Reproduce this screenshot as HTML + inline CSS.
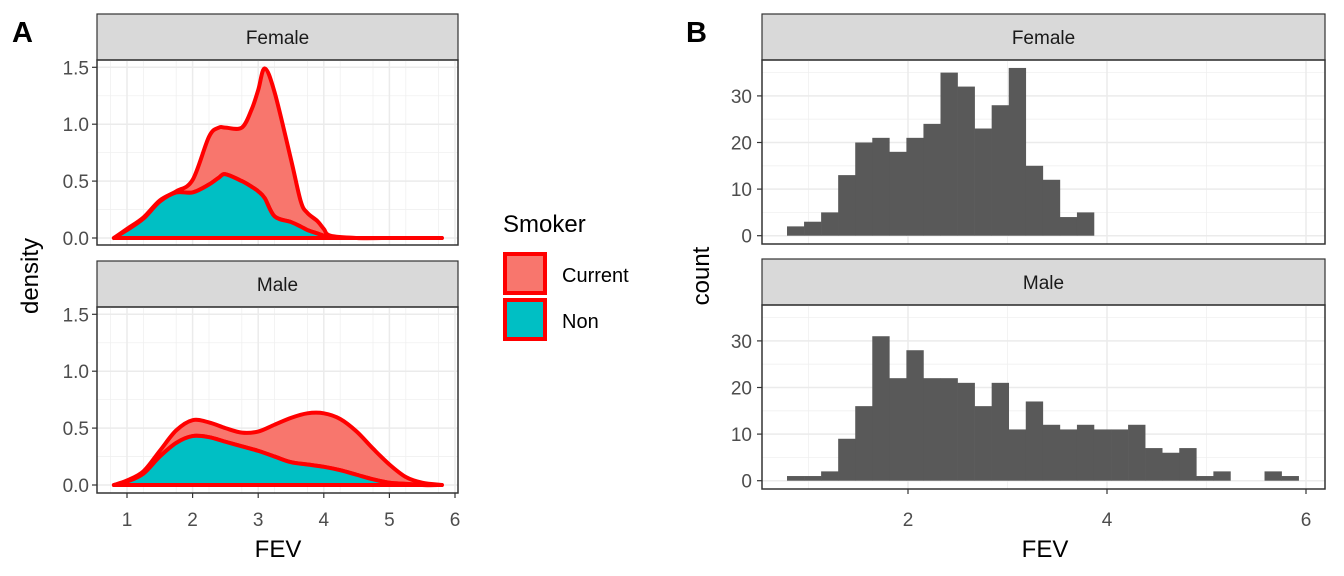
<!DOCTYPE html>
<html><head><meta charset="utf-8"><style>
body{margin:0;background:#fff}
svg{display:block;font-family:"Liberation Sans",Arial,sans-serif}
</style></head><body>
<svg id="c" width="1344" height="576" viewBox="0 0 1344 576"></svg>
<script>
// Panel A density data
const femX=[0.8,1.0,1.25,1.5,1.75,2.0,2.25,2.4,2.5,2.75,2.9,3.0,3.1,3.25,3.5,3.65,3.75,3.9,4.0,4.1,4.5,5.0,5.8];
const femNon=[0,0.07,0.17,0.32,0.4,0.4,0.47,0.53,0.56,0.5,0.45,0.41,0.35,0.19,0.14,0.1,0.07,0.04,0.02,0.01,0,0,0];
const femTotal=[0,0.08,0.18,0.33,0.41,0.51,0.89,0.97,0.97,0.97,1.13,1.3,1.49,1.28,0.69,0.32,0.22,0.15,0.08,0.02,0,0,0];
const malX=[0.8,1.0,1.25,1.5,1.75,2.0,2.25,2.5,2.75,3.0,3.25,3.5,3.75,4.0,4.25,4.5,4.75,5.0,5.25,5.5,5.8];
const malNon=[0,0.03,0.1,0.25,0.37,0.43,0.42,0.38,0.34,0.3,0.25,0.2,0.18,0.16,0.13,0.09,0.05,0.02,0.01,0,0];
const malTotal=[0,0.04,0.12,0.3,0.48,0.57,0.55,0.5,0.46,0.47,0.53,0.59,0.63,0.63,0.58,0.47,0.32,0.18,0.07,0.02,0];
const aXTicks=[1,2,3,4,5,6];
const aYTicks=[0,0.5,1.0,1.5];
const aYLabels=["0.0","0.5","1.0","1.5"];
// Panel B histogram data
const binStart=0.784, binWidth=0.1714;
const femCounts=[2,3,5,13,20,21,18,21,24,35,32,23,28,36,15,12,4,5];
const malCounts=[1,1,2,9,16,31,22,28,22,22,21,16,21,11,17,12,11,12,11,11,12,7,6,7,1,2,0,0,2,1];
const bXTicks=[2,4,6];
const bYTicks=[0,10,20,30];

const svg=document.getElementById('c');
const NS='http://www.w3.org/2000/svg';
function mk(tag,attrs,parent,name,text){
  const e=document.createElementNS(NS,tag);
  for(const k in attrs)e.setAttribute(k,attrs[k]);
  
  
  if(text!==undefined)e.textContent=text;
  (parent||svg).appendChild(e);return e;
}
function smooth(pts){
  let d='M'+pts[0][0]+','+pts[0][1];
  for(let i=0;i<pts.length-1;i++){
    const p0=pts[Math.max(0,i-1)],p1=pts[i],p2=pts[i+1],p3=pts[Math.min(pts.length-1,i+2)];
    const c1=[p1[0]+(p2[0]-p0[0])/6,p1[1]+(p2[1]-p0[1])/6];
    const c2=[p2[0]-(p3[0]-p1[0])/6,p2[1]-(p3[1]-p1[1])/6];
    d+=' C'+c1[0]+','+c1[1]+' '+c2[0]+','+c2[1]+' '+p2[0]+','+p2[1];
  }
  return d;
}
function revSmooth(pts){
  const r=pts.slice().reverse();
  const s=smooth(r);
  return ' L'+r[0][0]+','+r[0][1]+s.slice(s.indexOf(' C'));
}
function panel(x0,x1,stripTop,stripBot,strip,name){
  mk('rect',{x:x0,y:stripTop,width:x1-x0,height:stripBot-stripTop,fill:'#d9d9d9',stroke:'#333','stroke-width':1.2},null,name+'-strip');
  mk('text',{x:(x0+x1)/2,y:(stripTop+stripBot)/2+7,'text-anchor':'middle','font-size':19,fill:'#1a1a1a'},null,name+'-strip-label',strip);
}
// ---------- Panel A ----------
const ax=v=>127+(v-1)*65.6;
function densPanel(y0,top,bot,xs,non,tot,strip,name,showX){
  const ay=v=>y0-v*113.8;
  panel(97,458,top-46,top,strip,name);
  const g=mk('g',{},null,name+'-plot');
  for(let v=0.75;v<=6;v+=0.5)mk('line',{x1:ax(v),x2:ax(v),y1:top,y2:bot,stroke:'#f0f0f0','stroke-width':0.8},g,'minor-grid-x');
  for(let v=0.25;v<1.6;v+=0.5)mk('line',{x1:97,x2:458,y1:ay(v),y2:ay(v),stroke:'#f0f0f0','stroke-width':0.8},g,'minor-grid-y');
  aXTicks.forEach(v=>mk('line',{x1:ax(v),x2:ax(v),y1:top,y2:bot,stroke:'#ebebeb','stroke-width':1.5},g,'major-grid-x'));
  aYTicks.forEach((v,i)=>{
    mk('line',{x1:97,x2:458,y1:ay(v),y2:ay(v),stroke:'#ebebeb','stroke-width':1.5},g,'major-grid-y');
    mk('line',{x1:92,x2:97,y1:ay(v),y2:ay(v),stroke:'#333','stroke-width':1.2},g,'y-tick');
    mk('text',{x:89,y:ay(v)+7,'text-anchor':'end','font-size':19,fill:'#4d4d4d'},g,'y-tick-label',aYLabels[i]);
  });
  const totP=xs.map((x,i)=>[ax(x),ay(tot[i])]);
  const nonP=xs.map((x,i)=>[ax(x),ay(non[i])]);
  const base=xs.map(x=>[ax(x),ay(0)]);
  mk('path',{d:smooth(totP)+revSmooth(nonP)+'Z',fill:'#F8766D',stroke:'#ff0000','stroke-width':4,'stroke-linejoin':'round'},g,name+'-current-area');
  mk('path',{d:smooth(nonP)+' L'+base[base.length-1].join(',')+' L'+base[0].join(',')+'Z',fill:'#00BFC4',stroke:'#ff0000','stroke-width':4,'stroke-linejoin':'round'},g,name+'-non-area');
  mk('rect',{x:97,y:top,width:361,height:bot-top,fill:'none',stroke:'#333','stroke-width':1.5},g,name+'-border');
  if(showX)aXTicks.forEach(v=>{
    mk('line',{x1:ax(v),x2:ax(v),y1:bot,y2:bot+5,stroke:'#333','stroke-width':1.2},g,'x-tick');
    mk('text',{x:ax(v),y:526,'text-anchor':'middle','font-size':19,fill:'#4d4d4d'},g,'x-tick-label',v);
  });
}
densPanel(238,60,245,femX,femNon,femTotal,'Female','a-female',false);
densPanel(485,307,493,malX,malNon,malTotal,'Male','a-male',true);
mk('text',{x:278,y:557,'text-anchor':'middle','font-size':24,fill:'#000'},null,'a-x-axis-title','FEV');
mk('text',{x:38,y:276,'text-anchor':'middle','font-size':24,fill:'#000',transform:'rotate(-90 38 276)'},null,'a-y-axis-title','density');
mk('text',{x:12,y:42,'font-size':29,'font-weight':'bold',fill:'#000'},null,'panel-a-label','A');
// legend
mk('text',{x:503,y:232,'font-size':24,fill:'#000'},null,'legend-title','Smoker');
mk('rect',{x:505,y:254,width:40,height:39,fill:'#F8766D',stroke:'#ff0000','stroke-width':4},null,'legend-key-current');
mk('text',{x:562,y:282,'font-size':20,fill:'#000'},null,'legend-label-current','Current');
mk('rect',{x:505,y:300,width:40,height:39,fill:'#00BFC4',stroke:'#ff0000','stroke-width':4},null,'legend-key-non');
mk('text',{x:562,y:328,'font-size':20,fill:'#000'},null,'legend-label-non','Non');
// ---------- Panel B ----------
const bx=v=>709+v*99.5;
function histPanel(y0,top,bot,counts,strip,name,showX){
  const by=v=>y0-v*4.66;
  panel(762,1325,top-46,top,strip,name);
  const g=mk('g',{},null,name+'-plot');
  for(let v=1;v<=5;v+=2)mk('line',{x1:bx(v),x2:bx(v),y1:top,y2:bot,stroke:'#f0f0f0','stroke-width':0.8},g,'minor-grid-x');
  for(let v=5;v<40;v+=10)mk('line',{x1:762,x2:1325,y1:by(v),y2:by(v),stroke:'#f0f0f0','stroke-width':0.8},g,'minor-grid-y');
  bXTicks.forEach(v=>mk('line',{x1:bx(v),x2:bx(v),y1:top,y2:bot,stroke:'#ebebeb','stroke-width':1.5},g,'major-grid-x'));
  bYTicks.forEach(v=>{
    mk('line',{x1:762,x2:1325,y1:by(v),y2:by(v),stroke:'#ebebeb','stroke-width':1.5},g,'major-grid-y');
    mk('line',{x1:757,x2:762,y1:by(v),y2:by(v),stroke:'#333','stroke-width':1.2},g,'y-tick');
    mk('text',{x:752,y:by(v)+7,'text-anchor':'end','font-size':19,fill:'#4d4d4d'},g,'y-tick-label',v);
  });
  counts.forEach((c,i)=>{
    if(c<=0)return;
    const l=bx(binStart+i*binWidth),r=bx(binStart+(i+1)*binWidth);
    mk('rect',{x:l,y:by(c),width:r-l+0.3,height:by(0)-by(c),fill:'#595959'},g,name+'-bar');
  });
  mk('rect',{x:762,y:top,width:563,height:bot-top,fill:'none',stroke:'#333','stroke-width':1.5},g,name+'-border');
  if(showX)bXTicks.forEach(v=>{
    mk('line',{x1:bx(v),x2:bx(v),y1:bot,y2:bot+5,stroke:'#333','stroke-width':1.2},g,'x-tick');
    mk('text',{x:bx(v),y:526,'text-anchor':'middle','font-size':19,fill:'#4d4d4d'},g,'x-tick-label',v);
  });
}
histPanel(235.7,60,244,femCounts,'Female','b-female',false);
histPanel(480.7,305,489,malCounts,'Male','b-male',true);
mk('text',{x:1045,y:557,'text-anchor':'middle','font-size':24,fill:'#000'},null,'b-x-axis-title','FEV');
mk('text',{x:709,y:276,'text-anchor':'middle','font-size':24,fill:'#000',transform:'rotate(-90 709 276)'},null,'b-y-axis-title','count');
mk('text',{x:686,y:42,'font-size':29,'font-weight':'bold',fill:'#000'},null,'panel-b-label','B');
</script>
</body></html>
